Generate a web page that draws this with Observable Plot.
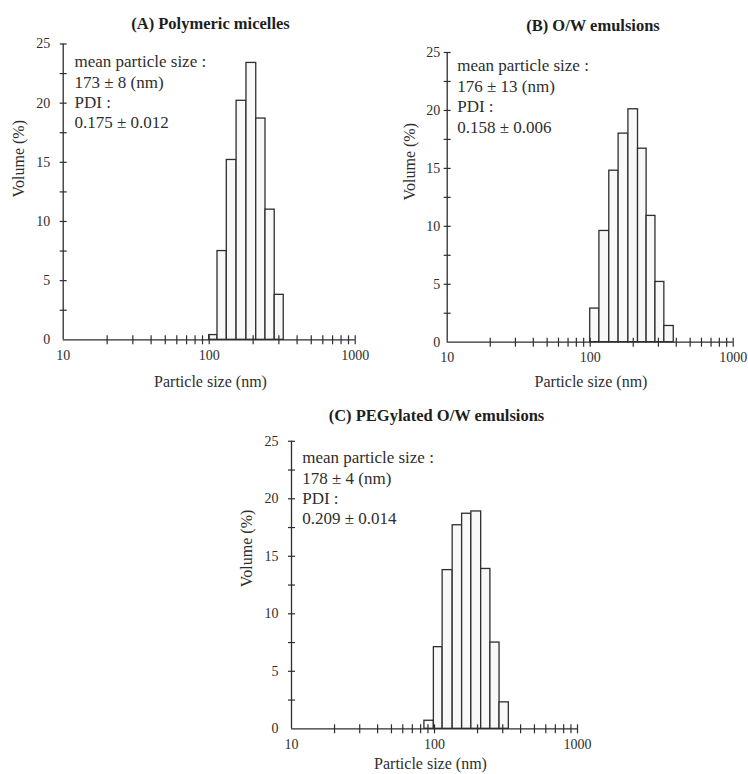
<!DOCTYPE html>
<html><head><meta charset="utf-8">
<script src="https://cdn.jsdelivr.net/npm/d3@7"></script>
<script src="https://cdn.jsdelivr.net/npm/@observablehq/plot@0.6"></script>
<style>
body{margin:0;background:#fff;}
#chart{position:relative;width:748px;height:774px;overflow:hidden;background:#fff;font-family:'Liberation Serif','Times New Roman',serif;}
#chart > div{position:absolute;}
#chart svg text{font-family:'Liberation Serif','Times New Roman',serif;}
</style></head><body><div id="chart"></div>
<script>
// ---- shared axis data ----
const xTickLabels = [10, 100, 1000];
const xMinorTicks = [20, 30, 40, 50, 60, 70, 80, 90, 100, 200, 300, 400, 500, 600, 700, 800, 900, 1000];
const yTickLabels = [0, 5, 10, 15, 20, 25];
const yMinorTicks = [2.5, 5, 7.5, 10, 12.5, 15, 17.5, 20, 22.5, 25];
const xAxisLabel = "Particle size (nm)";
const yAxisLabel = "Volume (%)";

// ---- panel A ----
const titleA = "(A) Polymeric micelles";
const edgesA = [100, 114, 132, 154, 180, 210, 243, 281, 324];
const volumeA = [0.4, 7.5, 15.2, 20.2, 23.4, 18.7, 11.0, 3.8];
const noteA = ["mean particle size :", "173 ± 8 (nm)", "PDI :", "0.175 ± 0.012"];

// ---- panel B ----
const titleB = "(B) O/W emulsions";
const edgesB = [100, 116, 136, 158, 185, 216, 248, 286, 330, 384];
const volumeB = [2.9, 9.6, 14.8, 18.0, 20.1, 16.7, 10.9, 5.2, 1.4];
const noteB = ["mean particle size :", "176 ± 13 (nm)", "PDI :", "0.158 ± 0.006"];

// ---- panel C ----
const titleC = "(C) PEGylated O/W emulsions";
const edgesC = [85, 99, 114, 134, 156, 181, 212, 246, 285, 331];
const volumeC = [0.7, 7.1, 13.8, 17.7, 18.7, 18.9, 13.9, 7.5, 2.3];
const noteC = ["mean particle size :", "178 ± 4 (nm)", "PDI :", "0.209 ± 0.014"];

const ink = "#2e2e2e";
const font = "Liberation Serif, Times New Roman, serif";

const hTick = {draw(ctx, size) { const r = Math.sqrt(size / Math.PI); ctx.moveTo(-r, 0); ctx.lineTo(r, 0); }};
const vTick = {draw(ctx, size) { const r = Math.sqrt(size / Math.PI); ctx.moveTo(0, -r); ctx.lineTo(0, r); }};

const panels = [
  {title: titleA, edges: edgesA, vols: volumeA, note: noteA,
   left: 0, top: 0, width: 374, height: 400, mL: 62.7, mR: 19.3, mT: 43.5, mB: 60.7, yPad: 13,
   tDx: 1.3, tDy: -20.2, xlDx: 1.3, xlDy: 42, ylDx: -44.4, ylDy: 5.6, nDx: 11.3, nDy: 47.3},
  {title: titleB, edges: edgesB, vols: volumeB, note: noteB,
   left: 374, top: 0, width: 374, height: 400, mL: 72.7, mR: 15.3, mT: 52, mB: 58.3, yPad: 7,
   tDx: 2.8, tDy: -27, xlDx: 0.8, xlDy: 40, ylDx: -37.7, ylDy: 3.1, nDx: 10, nDy: 43},
  {title: titleC, edges: edgesC, vols: volumeC, note: noteC,
   left: 230, top: 390, width: 374, height: 384, mL: 61, mR: 27, mT: 50.8, mB: 45.7, yPad: 13,
   tDx: 2, tDy: -25.8, xlDx: -4, xlDy: 34.7, ylDx: -44.3, ylDy: 2.1, nDx: 10.7, nDy: 45.9}
];

const chart = document.getElementById("chart");
for (const p of panels) {
  const bars = p.vols.map((v, i) => ({lo: p.edges[i], hi: p.edges[i + 1], v}));
  const svg = Plot.plot({
    width: p.width, height: p.height,
    marginLeft: p.mL, marginRight: p.mR, marginTop: p.mT, marginBottom: p.mB,
    style: {fontFamily: font, fontSize: "14px", color: ink, background: "transparent", overflow: "visible"},
    x: {type: "log", domain: [10, 1000]},
    y: {domain: [0, 25]},
    marks: [
      Plot.rect(bars, {x1: "lo", x2: "hi", y1: 0, y2: "v", fill: "#f8f8f8", stroke: ink, strokeWidth: 1.3}),
      Plot.ruleY([0], {x1: 10, x2: 1000, stroke: ink, strokeWidth: 1.3}),
      Plot.ruleX([10], {y1: 0, y2: 25, stroke: ink, strokeWidth: 1.3}),
      Plot.dot(xMinorTicks, {x: d => d, y: 0, symbol: vTick, r: 4.5, stroke: ink, fill: "none", strokeWidth: 1.2}),
      Plot.dot(yMinorTicks, {x: 10, y: d => d, symbol: hTick, r: 3.5, stroke: ink, fill: "none", strokeWidth: 1.2}),
      Plot.axisX({ticks: xTickLabels, tickSize: 0, tickPadding: 10, tickFormat: d => String(d), label: null, fontSize: 14, fontFamily: font, fill: ink}),
      Plot.axisY({ticks: yTickLabels, tickSize: 0, tickPadding: p.yPad, tickFormat: d => String(d), label: null, fontSize: 14, fontFamily: font, fill: ink}),
      Plot.text([p.title], {text: d => d, frameAnchor: "top", dx: p.tDx, dy: p.tDy, lineAnchor: "middle", fontWeight: "bold", fontSize: 16.5, fontFamily: font, fill: "#1e1e1e"}),
      Plot.text([xAxisLabel], {text: d => d, frameAnchor: "bottom", dx: p.xlDx, dy: p.xlDy, lineAnchor: "middle", fontSize: 16, fontFamily: font, fill: ink}),
      Plot.text([yAxisLabel], {text: d => d, frameAnchor: "left", dx: p.ylDx, dy: p.ylDy, rotate: -90, lineAnchor: "middle", fontSize: 16, fontFamily: font, fill: ink}),
      Plot.text([p.note.join("\n")], {text: d => d, frameAnchor: "top-left", dx: p.nDx, dy: p.nDy, textAnchor: "start", lineAnchor: "middle", lineHeight: 1.2, fontSize: 17, fontFamily: font, fill: ink})
    ]
  });
  const holder = document.createElement("div");
  holder.style.left = p.left + "px";
  holder.style.top = p.top + "px";
  holder.appendChild(svg);
  chart.appendChild(holder);
}
</script>
</body></html>
